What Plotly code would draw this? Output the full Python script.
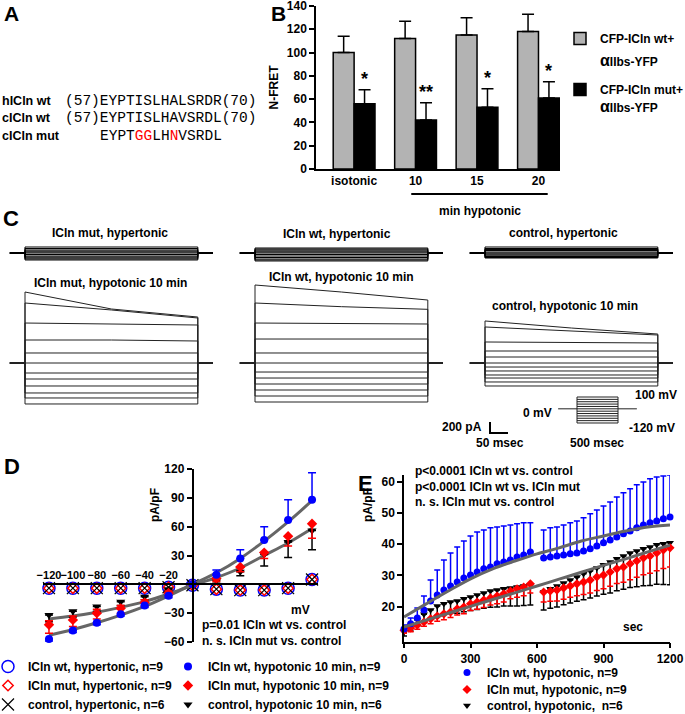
import plotly.graph_objects as go

W, H = 685, 714
FONT = "Liberation Sans, Arial, sans-serif"
MONO = "Liberation Mono, Courier New, monospace"
BLUE = "#0000ff"
RED = "#ff0000"
GREY = "#666666"

# ---------------- data ----------------
# B: N-FRET
b_cats = ["isotonic", "10", "15", "20"]
b_wt = [100, 112, 115, 118]
b_wt_err = [14, 15, 15, 15]
b_mut = [56, 42, 53, 61]
b_mut_err = [12, 15, 16, 14]
b_stars = ["*", "**", "*", "*"]

# C: current traces (pA) for steps +100 ... -120 mV
c_volt = [100, 80, 60, 40, 20, 0, -20, -40, -60, -80, -100, -120]
c_t = [-42, 0, 0, 240, 480, 480, 522]          # ms: holding, step on, mid, step off, holding
c1_hyper = [109, 82, 55, 36, 18, 0, -27, -55, -73, -91, -109, -127]
c2_hyper = [91, 73, 55, 36, 18, 0, -27, -55, -82, -109, -127, -145]
c3_hyper = [109, 82, 64, 45, 18, 0, -18, -36, -55, -64, -82, -91]
c1_start = [1291, 1091, 727, 418, 182, 0, -182, -291, -418, -545, -636, -745]
c1_mid = [982, 964, 709, 418, 182, 0, -182, -291, -418, -545, -636, -745]
c1_end = [836, 818, 691, 400, 182, 0, -182, -291, -418, -545, -636, -745]
c2_start = [1418, 1091, 727, 436, 182, 0, -164, -273, -382, -491, -600, -709]
c2_mid = [1291, 1024, 718, 436, 182, 0, -164, -273, -382, -491, -600, -709]
c2_end = [1145, 976, 709, 436, 182, 0, -164, -273, -382, -491, -600, -709]
c3_start = [764, 655, 382, 218, 109, 0, -73, -145, -218, -273, -345, -418]
c3_mid = [636, 588, 373, 218, 109, 0, -73, -145, -218, -273, -345, -418]
c3_end = [527, 509, 364, 218, 109, 0, -73, -145, -218, -273, -345, -418]
p_dur, p_hold = 500, 230
scale_pa, scale_ms = 200, 50

# D: I-V
d_v = [-120, -100, -80, -60, -40, -20, 0, 20, 40, 60, 80, 100]
d_wt_hyper = [-4, -4, -4, -4, -4, -3, -1, -5, -6, -6, -4, 5]
d_mut_hyper = [-4, -4, -4, -4, -4, -3, -1, -5, -6, -6, -4, 5]
d_ctrl_hyper = [-4, -4, -4, -4, -4, -3, -1, -5, -6, -6, -4, 5]
d_wt = [-57, -48, -40, -31, -22, -12, 0, 10, 27, 46, 67, 88]
d_wt_up = [0, 0, 0, 0, 0, 0, 0, 5, 9, 14, 21, 28]
d_wt_dn = [2, 2, 2, 2, 2, 2, 0, 0, 0, 0, 0, 0]
d_mut = [-42, -37, -30, -25, -19, -9, 0, 6, 18, 33, 50, 63]
d_mut_up = [4, 4, 4, 3, 3, 2, 0, 0, 0, 0, 0, 0]
d_mut_dn = [9, 7, 6, 5, 4, 3, 0, 3, 5, 6, 10, 15]
d_ctrl = [-32, -28, -23, -18, -13, -5, 0, 4, 13, 31, 44, 56]
d_ctrl_up = [0, 0, 0, 0, 0, 0, 0, 0, 0, 0, 0, 0]
d_ctrl_dn = [7, 6, 5, 4, 3, 2, 0, 3, 4, 12, 16, 20]
d_fit_wt = [-53, -47, -40, -32, -23, -12, 0, 12, 27, 45, 65, 87]
d_fit_ctrl = [-36, -33, -29, -24, -18, -10, -1, 7, 17, 30, 43, 58]

# E: time course
e_time = [0, 30, 60, 90, 120, 150, 180, 210, 240, 270, 300, 330, 360, 390, 420, 450, 480, 510, 540, 570,
          630, 660, 690, 720, 750, 780, 810, 840, 870, 900, 930, 960, 990, 1020, 1050, 1080, 1110, 1140, 1170, 1200]
e_wt = [12.9, 14.5, 16.4, 18.9, 21.8, 23.7, 25.3, 26.6, 27.9, 29.2, 30.1, 31.1, 32.1, 32.7, 33.7, 34.3, 34.9, 35.9, 36.5, 37.5,
        35.6, 35.9, 36.2, 36.5, 36.9, 37.2, 37.8, 38.5, 39.4, 40.4, 41.3, 42.3, 43.3, 44.2, 45.2, 46.1, 46.8, 47.4, 48.1, 48.7]
e_wt_err = [1.2, 1.9, 3.2, 4.5, 6.7, 8.0, 9.6, 10.6, 11.2, 11.8, 12.5, 12.8, 12.4, 12.5, 11.8, 11.5, 11.2, 10.6, 10.3, 9.3,
            8.9, 9.3, 9.3, 9.6, 9.9, 10.2, 10.6, 11.2, 11.5, 11.8, 12.2, 12.8, 13.1, 13.5, 13.8, 13.8, 14.1, 14.1, 13.7, 13.4]
e_mut = [12.5, 13.2, 14.1, 15.1, 16.1, 17.0, 17.7, 18.3, 19.3, 19.9, 20.9, 21.5, 22.1, 22.8, 23.4, 24.1, 25.0, 25.7, 26.3, 27.3,
         24.7, 25.0, 25.3, 26.0, 26.6, 27.3, 27.9, 28.5, 29.5, 30.1, 31.1, 32.1, 32.7, 33.7, 34.6, 35.6, 36.2, 37.2, 38.1, 38.8]
e_mut_err = [1.0, 1.2, 1.3, 1.4, 1.6, 1.7, 1.9, 1.8, 2.0, 2.2, 2.1, 2.3, 2.4, 2.3, 2.5, 2.6, 2.5, 2.7, 2.8, 2.9,
             3.2, 3.3, 3.5, 3.6, 3.6, 3.8, 4.0, 4.1, 4.3, 4.4, 4.6, 4.7, 4.9, 5.1, 5.2, 5.4, 5.5, 5.7, 5.9, 6.1]
e_ctrl = [11.9, 13.8, 15.7, 17.6, 18.9, 20.2, 20.9, 21.5, 21.8, 22.5, 23.1, 23.7, 24.4, 25.0, 25.3, 25.7, 26.0, 26.3, 26.6, 26.9,
          24.7, 25.7, 26.6, 27.6, 28.5, 29.5, 30.5, 31.4, 32.4, 33.4, 34.3, 35.3, 36.2, 37.2, 37.8, 38.5, 39.1, 39.8, 40.1, 40.4]
e_ctrl_err = [1.3, 1.6, 2.0, 2.4, 2.6, 3.0, 3.2, 3.5, 3.9, 4.1, 4.3, 4.6, 4.9, 5.2, 5.4, 5.5, 5.8, 6.1, 6.2, 6.4,
              5.8, 6.2, 6.7, 7.0, 7.3, 7.8, 8.3, 8.6, 9.0, 9.4, 9.9, 10.2, 10.6, 11.1, 11.4, 11.8, 12.3, 12.6, 13.0, 13.4]
e_fit_t = [0, 100, 200, 300, 400, 500, 600, 700, 800, 900, 1000, 1100, 1200]
e_fit_wt = [16.7, 20.9, 25.0, 28.9, 32.1, 34.6, 36.9, 38.8, 41.0, 42.6, 44.2, 45.5, 46.1]
e_fit_ctrl = [13.5, 15.7, 17.9, 20.1, 22.3, 24.4, 26.6, 28.8, 31.0, 33.2, 35.3, 37.5, 39.7]


# ---------------- helpers (pixel -> paper) ----------------
def px(x):
    return x / W


def py(y):
    return 1 - y / H


def xdom(a, b):
    return [a / W, b / W]


def ydom(top, bottom):
    return [1 - bottom / H, 1 - top / H]


annotations = []


def text(t, x, y, size=12, anchor="center", bold=True, family=FONT, angle=0):
    annotations.append(dict(text=t, x=px(x), y=py(y), xref="paper", yref="paper",
                            xanchor=anchor, yanchor="middle", showarrow=False, textangle=angle,
                            font=dict(family=family, size=size, color="black",
                                      weight="bold" if bold else "normal")))


fig = go.Figure()

# ---------------- B ----------------
fig.add_trace(go.Bar(x=b_cats, y=b_wt, name="CFP-ICln wt+", legend="legend", legendgroup="a",
                     marker=dict(color="#b3b3b3", line=dict(color="black", width=1.5)),
                     error_y=dict(type="data", symmetric=False, array=b_wt_err, arrayminus=[0] * 4,
                                  color="black", thickness=1.5, width=6)))
fig.add_trace(go.Bar(x=b_cats, y=b_mut, name="CFP-ICln mut+", legend="legend", legendgroup="b",
                     marker=dict(color="black", line=dict(color="black", width=1.5)),
                     error_y=dict(type="data", symmetric=False, array=b_mut_err, arrayminus=[0] * 4,
                                  color="black", thickness=1.5, width=6)))
for i, (v, e, s) in enumerate(zip(b_mut, b_mut_err, b_stars)):
    annotations.append(dict(text=s, x=i, y=v + e, xref="x", yref="y", xshift=10.5, yshift=-1,
                            yanchor="bottom", showarrow=False,
                            font=dict(family=FONT, size=18, color="black", weight="bold")))

# ---------------- C ----------------
col_axes = [("x2", "y2", "x3", "y3", c1_hyper, c1_start, c1_mid, c1_end),
            ("x4", "y4", "x5", "y5", c2_hyper, c2_start, c2_mid, c2_end),
            ("x6", "y6", "x7", "y7", c3_hyper, c3_start, c3_mid, c3_end)]
for xa, ya, xb, yb, hyp, st, md, en in col_axes:
    xs, ys = [], []
    for h in hyp:
        xs += c_t + [None]
        ys += [0, 0, h, h, h, 0, 0, None]
    fig.add_trace(go.Scatter(x=xs, y=ys, mode="lines", xaxis=xa, yaxis=ya, showlegend=False,
                             line=dict(color="#000000", width=1)))
    xs, ys = [], []
    for a, m, b in zip(st, md, en):
        xs += c_t + [None]
        ys += [0, 0, a, m, b, 0, 0, None]
    fig.add_trace(go.Scatter(x=xs, y=ys, mode="lines", xaxis=xb, yaxis=yb, showlegend=False,
                             line=dict(color="#222222", width=1)))

# protocol
xs, ys = [-p_hold, 0, None, p_dur, p_dur + p_hold, None], [0, 0, None, 0, 0, None]
for v in c_volt:
    xs += [0, p_dur, None]
    ys += [v, v, None]
xs += [0, 0, None, p_dur, p_dur]
ys += [max(c_volt), min(c_volt), None, max(c_volt), min(c_volt)]
fig.add_trace(go.Scatter(x=xs, y=ys, mode="lines", xaxis="x8", yaxis="y8", showlegend=False,
                         line=dict(color="#222222", width=1)))
# scale bar
fig.add_trace(go.Scatter(x=[0, 0, scale_ms], y=[scale_pa, 0, 0], mode="lines", xaxis="x9", yaxis="y9",
                         showlegend=False, line=dict(color="black", width=2)))

# ---------------- D ----------------
hyper_style = [("ICln wt, hypertonic, n=9", d_wt_hyper, dict(symbol="circle-open", size=12, color=BLUE, line=dict(width=1.5, color=BLUE))),
               ("ICln mut, hypertonic, n=9", d_mut_hyper, dict(symbol="diamond-open", size=8, color=RED, line=dict(width=1.5, color=RED))),
               ("control, hypertonic, n=6", d_ctrl_hyper, dict(symbol="x-thin-open", size=12, color="black", line=dict(width=1.2, color="black")))]
for i, (n, y, m) in enumerate(hyper_style):
    fig.add_trace(go.Scatter(x=d_v, y=y, mode="markers", name=n, marker=m, legend="legend2",
                             legendrank=i + 1, xaxis="x10", yaxis="y10", cliponaxis=False))

for y in (d_fit_wt, d_fit_ctrl):
    fig.add_trace(go.Scatter(x=d_v, y=y, mode="lines", line=dict(color=GREY, width=3, shape="spline"),
                             xaxis="x10", yaxis="y10", showlegend=False))

hypo_d = [("control, hypotonic 10 min, n=6", d_ctrl, d_ctrl_up, d_ctrl_dn, "black", "triangle-down", 3),
          ("ICln mut, hypotonic 10 min, n=9", d_mut, d_mut_up, d_mut_dn, RED, "diamond", 2),
          ("ICln wt, hypotonic 10 min, n=9", d_wt, d_wt_up, d_wt_dn, BLUE, "circle", 1)]
for n, y, up, dn, col, sym, rank in hypo_d:
    fig.add_trace(go.Scatter(x=d_v, y=y, mode="markers", name=n, legend="legend3", legendrank=rank,
                             marker=dict(symbol=sym, size=8, color=col),
                             error_y=dict(type="data", symmetric=False, array=up, arrayminus=dn,
                                          color=col, thickness=1.5, width=4),
                             xaxis="x10", yaxis="y10", cliponaxis=False))

# ---------------- E ----------------
hypo_e = [("control, hypotonic,  n=6", e_ctrl, e_ctrl_err, "black", "triangle-down", "legend6", False),
          ("ICln mut, hypotonic, n=9", e_mut, e_mut_err, RED, "diamond", "legend5", False),
          ("ICln wt, hypotonic, n=9", e_wt, e_wt_err, BLUE, "circle", "legend4", True)]
for n, y, err, col, sym, leg, up in hypo_e:
    zeros = [0] * len(err)
    fig.add_trace(go.Scatter(x=e_time, y=y, mode="markers", name=n, legend=leg,
                             marker=dict(symbol=sym, size=7, color=col),
                             error_y=dict(type="data", symmetric=False,
                                          array=err if up else zeros, arrayminus=zeros if up else err,
                                          color=col, thickness=1.5, width=3),
                             xaxis="x12", yaxis="y12", cliponaxis=False))
for y in (e_fit_wt, e_fit_ctrl):
    fig.add_trace(go.Scatter(x=e_fit_t, y=y, mode="lines", line=dict(color=GREY, width=3, shape="spline"),
                             xaxis="x12", yaxis="y12", showlegend=False))

# ---------------- text ----------------
text("A", 11, 13, size=21, anchor="center")
text("hICln wt", 0, 101, size=12.5, anchor="left")
text("cICln wt", 0, 118, size=12.5, anchor="left")
text("cICln mut", 0, 136, size=12.5, anchor="left")
text("(57)EYPTISLHALSRDR(70)", 63, 101, size=14.5, anchor="left", bold=False, family=MONO)
text("(57)EYPTISLHAVSRDL(70)", 63, 118, size=14.5, anchor="left", bold=False, family=MONO)
text("EYPT<span style='color:red'>GG</span>LH<span style='color:red'>N</span>VSRDL",
     98, 136, size=14.5, anchor="left", bold=False, family=MONO)
text("B", 278, 13, size=21)
text("<span style='font-size:16px'>α</span>IIbs-YFP", 598, 60, anchor="left")
text("<span style='font-size:16px'>α</span>IIbs-YFP", 598, 106, anchor="left")
text("min hypotonic", 480, 211)
text("C", 11, 218, size=22)
text("ICln mut, hypertonic", 110, 233)
text("ICln wt, hypertonic", 337, 234)
text("control, hypertonic", 563, 233)
text("ICln mut, hypotonic 10 min", 110, 283)
text("ICln wt, hypotonic 10 min", 341, 277)
text("control, hypotonic 10 min", 565, 306)
text("200 pA", 484, 427, anchor="right")
text("50 msec", 500, 443)
text("0 mV", 554, 413, anchor="right")
text("100 mV", 633, 395, anchor="left")
text("-120 mV", 627, 428, anchor="left")
text("500 msec", 597, 443)
text("D", 12, 466, size=22)
text("pA/pF", 155, 505, angle=-90)
text("mV", 300, 610)
text("p=0.01 ICln wt vs. control", 200, 625, anchor="left")
text("n. s. ICln mut vs. control", 200, 641, anchor="left")
text("E", 366, 483, size=22)
text("pA/pF", 368, 505, angle=-90)
text("p<0.0001 ICln wt vs. control", 413, 471, anchor="left")
text("p<0.0001 ICln wt vs. ICln mut", 413, 487, anchor="left")
text("n. s. ICln mut vs. control", 413, 502, anchor="left")
text("sec", 633, 627)

# ---------------- layout ----------------
tickfont = dict(family=FONT, size=12, color="black", weight="bold")
hidden = dict(visible=False, showgrid=False, zeroline=False, fixedrange=True)

c_x = (-20 / 0.36, 200 / 0.36)
pa_px = 200 / 11.0
layout_axes = {}
for k, x0 in zip((2, 4, 6), (25, 255, 485)):
    for kk in (k, k + 1):
        layout_axes["xaxis%d" % kk] = dict(hidden, domain=xdom(x0 - 20, x0 + 200), range=list(c_x), anchor="y%d" % kk)
    layout_axes["yaxis%d" % k] = dict(hidden, domain=ydom(238, 268), range=[-15 * pa_px, 15 * pa_px], anchor="x%d" % k)
    layout_axes["yaxis%d" % (k + 1)] = dict(hidden, domain=ydom(280, 420), range=[-57 * pa_px, 83 * pa_px], anchor="x%d" % (k + 1))
layout_axes["xaxis8"] = dict(hidden, domain=xdom(550, 640), range=[-27 / 0.082, 63 / 0.082], anchor="y8")
layout_axes["yaxis8"] = dict(hidden, domain=ydom(390, 430), range=[-120 - 7 / 0.118, 100 + 7 / 0.118], anchor="x8")
layout_axes["xaxis9"] = dict(hidden, domain=xdom(480, 520), range=[-10 / 0.36, 30 / 0.36], anchor="y9")
layout_axes["yaxis9"] = dict(hidden, domain=ydom(415, 440), range=[-7 * pa_px, 18 * pa_px], anchor="x9")

axline = dict(showline=True, linecolor="black", linewidth=1.5, showgrid=False, zeroline=False,
              tickfont=tickfont, ticklen=5, tickwidth=1.5, tickcolor="black", tickangle=0, automargin=False)
d_zero = py(584.3)
small = dict(tickfont, size=11)
layout_axes["xaxis10"] = dict(axline, domain=xdom(43, 318), range=[-125, 105], anchor="free", position=d_zero,
                              side="top", tickvals=[-120, -100, -80, -60, -40, -20], ticks="", tickfont=small)
layout_axes["xaxis11"] = dict(axline, domain=xdom(43, 318), range=[-125, 105], anchor="free", position=d_zero,
                              side="bottom", overlaying="x10", tickvals=[20, 40, 60, 80, 100], ticks="", tickfont=small)
layout_axes["yaxis10"] = dict(axline, domain=ydom(469, 642), range=[-60, 120], anchor="free", position=px(192.5),
                              tickvals=[-60, -30, 30, 60, 90, 120], ticks="outside")
layout_axes["xaxis12"] = dict(axline, domain=xdom(404, 670), range=[0, 1200], anchor="y12",
                              tickvals=[0, 300, 600, 900, 1200], ticks="outside")
layout_axes["yaxis12"] = dict(axline, domain=ydom(475, 641.7), range=[8.8, 62.1], anchor="x12",
                              tickvals=[20, 30, 40, 50, 60], ticks="outside")

legend_base = dict(font=dict(family=FONT, size=12, color="black", weight="bold"), bgcolor="rgba(0,0,0,0)",
                   borderwidth=0, itemwidth=30, xanchor="left", yanchor="top", orientation="v")

fig.update_layout(
    width=W, height=H, autosize=False, margin=dict(l=0, r=0, t=0, b=0, pad=0, autoexpand=False),
    paper_bgcolor="white", plot_bgcolor="white",
    font=dict(family=FONT, size=12, color="black", weight="bold"),
    barmode="group", bargap=0.32, bargroupgap=0,
    xaxis=dict(axline, domain=xdom(316, 560), range=[-0.62, 3.35], type="category", ticks="", anchor="y"),
    yaxis=dict(axline, domain=ydom(6, 169), range=[0, 140], dtick=20, ticks="outside", anchor="x",
               title=dict(text="N-FRET", font=tickfont, standoff=6)),
    legend=dict(legend_base, x=px(560), y=py(24), tracegroupgap=32),
    legend2=dict(legend_base, x=px(-12), y=py(652)),
    legend3=dict(legend_base, x=px(168), y=py(652)),
    legend4=dict(legend_base, x=px(447), y=py(658)),
    legend5=dict(legend_base, x=px(447), y=py(675)),
    legend6=dict(legend_base, x=px(447), y=py(691)),
    annotations=annotations,
    shapes=[dict(type="line", xref="x", yref="paper", x0=0.93, x1=3.15, y0=py(194), y1=py(194),
                 line=dict(color="black", width=2))],
    **layout_axes,
)

# the page opens at the window size: drop the browser's default body margin
fig.write_html("out.html", config={"displayModeBar": False},
               post_script="document.body.style.margin='0px';")
